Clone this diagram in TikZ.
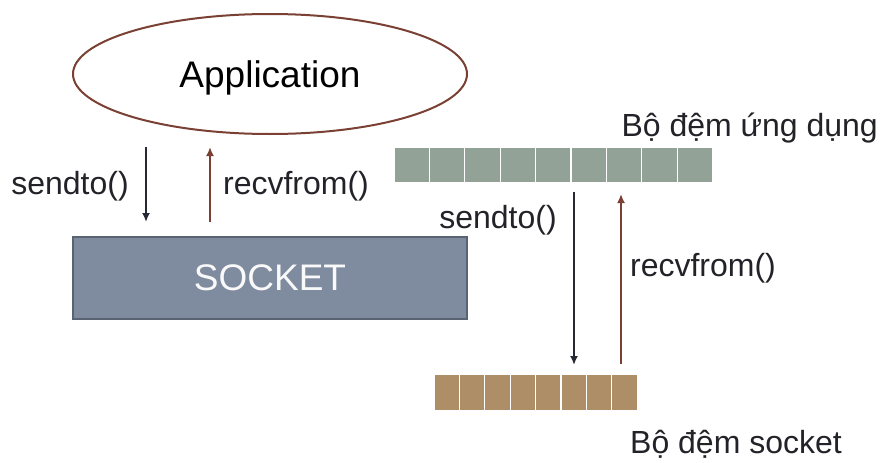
\documentclass[tikz,border=0pt]{standalone}
\usepackage{fontspec}
\setmainfont{Liberation Sans}
\usetikzlibrary{arrows.meta,shapes.geometric}
\definecolor{brn}{RGB}{122,64,52}
\definecolor{darkarr}{RGB}{38,40,50}
\definecolor{sockfill}{RGB}{127,139,159}
\definecolor{sockedge}{RGB}{90,99,114}
\definecolor{greenbuf}{RGB}{147,162,150}
\definecolor{tanbuf}{RGB}{173,142,102}
\definecolor{txt}{RGB}{34,34,40}
\begin{document}
\begin{tikzpicture}[x=1pt,y=-1pt,
  lbl/.style={font=\fontsize{32}{38}\selectfont, text=txt, inner sep=0pt},
  sendarr/.style={draw=darkarr, line width=1.8pt, -{Latex[length=9pt,width=8pt]}},
  recvarr/.style={draw=brn, line width=1.8pt, -{Latex[length=9pt,width=8pt]}},
  gcell/.style={draw=white, line width=1.2pt, fill=greenbuf, minimum width=35.4pt, minimum height=36pt, inner sep=0pt, outer sep=0pt},
  tcell/.style={draw=white, line width=1.2pt, fill=tanbuf, minimum width=25.4pt, minimum height=37pt, inner sep=0pt, outer sep=0pt}]
\useasboundingbox (0,0) rectangle (884,463);
% Application ellipse
\node[ellipse, draw=brn, line width=2pt, minimum width=394pt, minimum height=120pt, inner sep=0pt] (app) at (270,74) {};
\node[font=\fontsize{37}{44}\selectfont, text=black, inner sep=0pt] (apptext) at (270,78) {Application};
% SOCKET box
\node[draw=sockedge, fill=sockfill, line width=1.6pt, minimum width=394pt, minimum height=82pt, inner sep=0pt,
  font=\fontsize{37}{44}\selectfont, text=white!95!sockfill] (sock) at (270,278) {SOCKET};
% left arrows
\coordinate (ls1) at (146,147);
\coordinate (ls2) at (146,222);
\coordinate (lr1) at (210,222);
\coordinate (lr2) at (210,147);
\draw[sendarr] (ls1) -- (ls2);
\draw[recvarr] (lr1) -- (lr2);
\node[lbl] (lsend) at (70,186) {sendto()};
\node[lbl] (lrecv) at (296,186) {recvfrom()};
% application buffer
\foreach \i in {1,...,9} {
  \node[gcell] (ab\i) at ({394+35.4*(\i-0.5)},165) {};
}
\node[lbl, anchor=east] (ablbl) at (878,128) {Bộ đệm ứng dụng};
% socket buffer
\foreach \i in {1,...,8} {
  \node[tcell] (sb\i) at ({434+25.4*(\i-0.5)},392.5) {};
}
\node[lbl, anchor=west] (sblbl) at (630,444) {Bộ đệm socket};
% right arrows
\coordinate (rs1) at (574,192);
\coordinate (rs2) at (574,365);
\coordinate (rr1) at (621,364);
\coordinate (rr2) at (621,194);
\draw[sendarr] (rs1) -- (rs2);
\draw[recvarr] (rr1) -- (rr2);
\node[lbl] (rsend) at (498,220) {sendto()};
\node[lbl] (rrecv) at (703,268) {recvfrom()};
\end{tikzpicture}
\end{document}
